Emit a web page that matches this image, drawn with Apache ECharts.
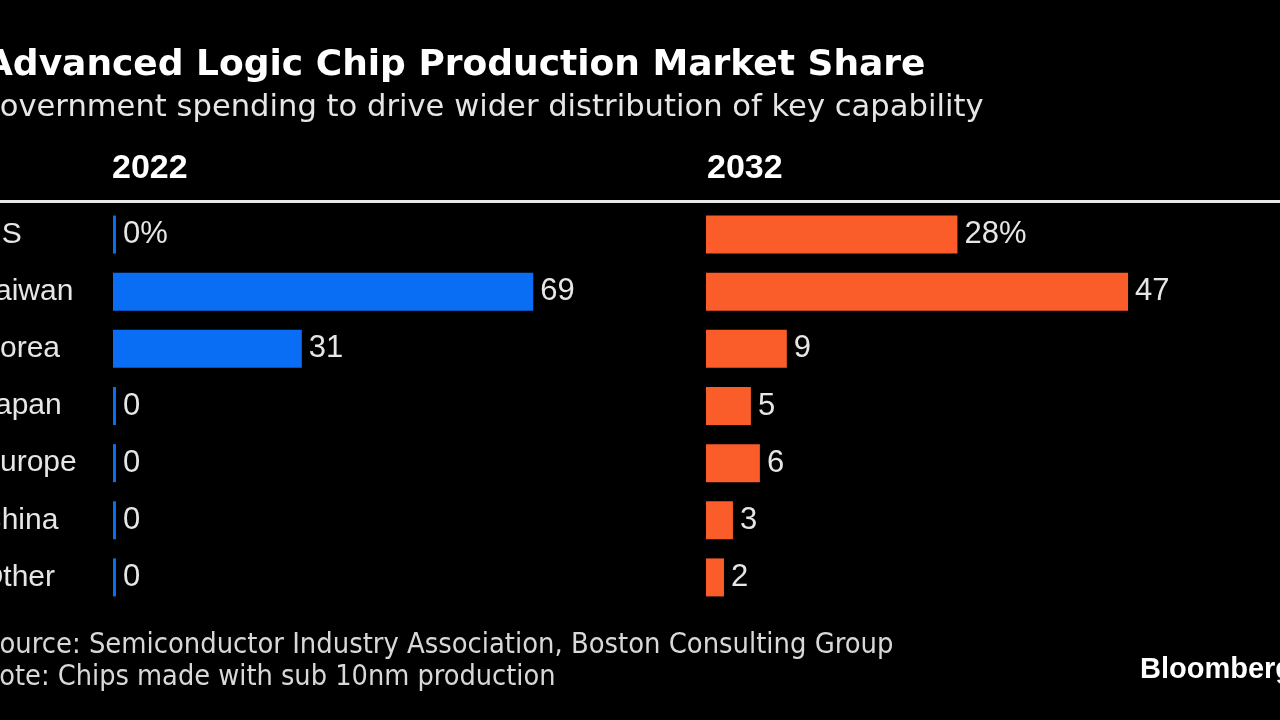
<!DOCTYPE html>
<html><head><meta charset="utf-8">
<script src="https://cdn.jsdelivr.net/npm/echarts@6/dist/echarts.min.js"></script>
<style>html,body{margin:0;padding:0;background:#000}#c{width:1280px;height:720px}</style>
</head><body><div id="c"></div>
<script>
const categories = ['US', 'Taiwan', 'Korea', 'Japan', 'Europe', 'China', 'Other'];
const share2022 = [0, 69, 31, 0, 0, 0, 0];
const share2032 = [28, 47, 9, 5, 6, 3, 2];
const panelTitles = ['2022', '2032'];
const titleText = 'Advanced Logic Chip Production Market Share';
const subtitleText = 'Government spending to drive wider distribution of key capability';
const sourceText = 'Source: Semiconductor Industry Association, Boston Consulting Group';
const noteText = 'Note: Chips made with sub 10nm production';

const chart = echarts.init(document.getElementById('c'));
const labelFmt = p => p.dataIndex === 0 ? p.value + '%' : String(p.value);
const valueLabel = {
  show: true, position: 'right', distance: 7, color: '#e6e6e6',
  fontSize: 31, fontFamily: 'Liberation Sans', formatter: labelFmt
};
chart.setOption({
  backgroundColor: '#000',
  animation: false,
  grid: [
    { left: 113, top: 206, width: 609, height: 400, outerBoundsMode: 'none', containLabel: false },
    { left: 706, top: 206, width: 449, height: 400, outerBoundsMode: 'none', containLabel: false }
  ],
  xAxis: [
    { gridIndex: 0, type: 'value', min: 0, max: 100, show: false },
    { gridIndex: 1, type: 'value', min: 0, max: 50, show: false }
  ],
  yAxis: [
    { gridIndex: 0, type: 'category', data: categories, inverse: true,
      axisLine: { show: false }, axisTick: { show: false },
      axisLabel: { align: 'left', margin: 133, color: '#e6e6e6', fontSize: 30, fontFamily: 'Liberation Sans' } },
    { gridIndex: 1, type: 'category', data: categories, inverse: true, show: false }
  ],
  series: [
    { type: 'bar', xAxisIndex: 0, yAxisIndex: 0, data: share2022, barWidth: 38, barMinHeight: 3,
      itemStyle: { color: '#0a6ef5' }, label: valueLabel },
    { type: 'bar', xAxisIndex: 1, yAxisIndex: 1, data: share2032, barWidth: 38, barMinHeight: 3,
      itemStyle: { color: '#fa5d2a' }, label: valueLabel }
  ],
  graphic: [
    { type: 'text', x: -15, y: 66, style: { text: titleText, fill: '#fff', font: 'bold 36px "DejaVu Sans"', verticalAlign: 'middle' } },
    { type: 'text', x: -24, y: 108, style: { text: subtitleText, fill: '#e6e6e6', font: '30.6px "DejaVu Sans"', verticalAlign: 'middle' } },
    { type: 'text', x: 112, y: 169, style: { text: panelTitles[0], fill: '#fff', font: 'bold 34px "Liberation Sans"', verticalAlign: 'middle' } },
    { type: 'text', x: 707, y: 169, style: { text: panelTitles[1], fill: '#fff', font: 'bold 34px "Liberation Sans"', verticalAlign: 'middle' } },
    { type: 'rect', shape: { x: 0, y: 200, width: 1280, height: 3 }, style: { fill: '#e8e8e8' } },
    { type: 'text', x: -17, y: 646, style: { text: sourceText, fill: '#d8d8d8', font: '28.8px "DejaVu Sans Condensed"', verticalAlign: 'middle' } },
    { type: 'text', x: -20, y: 678, style: { text: noteText, fill: '#d8d8d8', font: '28.6px "DejaVu Sans Condensed"', verticalAlign: 'middle' } },
    { type: 'text', x: 1140, y: 670, style: { text: 'Bloomberg', fill: '#fff', font: 'bold 29px "Liberation Sans"', verticalAlign: 'middle' } }
  ]
});
</script></body></html>
